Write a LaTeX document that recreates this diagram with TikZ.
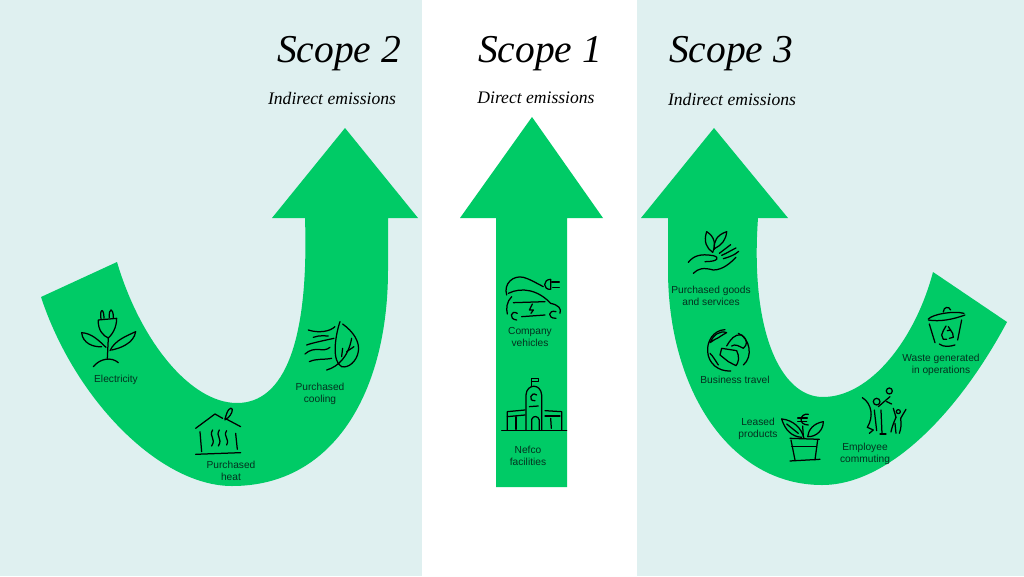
\documentclass[tikz,border=0pt]{standalone}
\usepackage{xcolor}
\usepackage{fontspec}
\setmainfont{Liberation Serif}
\setsansfont{Liberation Sans}
\definecolor{panelblue}{HTML}{DFF0F0}
\definecolor{arrowgreen}{HTML}{00CB66}
\definecolor{labelink}{HTML}{04301F}
\begin{document}
\begin{tikzpicture}[
  x=1pt, y=-1pt,
  title/.style={font=\fontsize{39.5}{39.5}\selectfont\itshape, inner sep=0pt},
  sub/.style={font=\fontsize{17.6}{17.6}\selectfont\itshape, inner sep=0pt},
  lbl/.style={font=\fontsize{10.2}{12}\selectfont\sffamily, text=labelink, align=center, inner sep=0pt},
  arrowfill/.style={fill=arrowgreen, draw=none},
  icon/.style={draw=black, line width=1.25pt, line cap=round, line join=round},
  cropa/.style={shift={(30,250)}, x=.3333pt, y=-.3333pt},
  cropb/.style={shift={(480,260)}, x=.3333pt, y=-.3333pt},
  cropc/.style={shift={(660,220)}, x=.3333pt, y=-.3333pt}]

  \useasboundingbox (0,0) rectangle (1024,576);

  % panels
  \fill[white] (0,0) rectangle (1024,576);
  \fill[panelblue] (0,0) rectangle (422,576);
  \fill[panelblue] (637,0) rectangle (1024,576);

  % arrows
  \path[arrowfill] (41,297) .. controls (75,400) and (160,486) .. (232,486)
    .. controls (335,486) and (388,390) .. (388,270) -- (388,218) -- (418,218)
    -- (345,128) -- (272,218) -- (305,218)
    .. controls (309,340) and (285,403) .. (237,403)
    .. controls (190,403) and (140,340) .. (117,262) -- cycle;
  \path[arrowfill] (496,487) -- (496,218) -- (460,218) -- (532,117) -- (603,218)
    -- (567,218) -- (567,487) -- cycle;
  \path[arrowfill] (1007,322) .. controls (960,410) and (890,485) .. (822,485)
    .. controls (730,485) and (668,390) .. (668,270) -- (668,218) -- (641,218)
    -- (714,128) -- (788,218) -- (758,218)
    .. controls (750,330) and (780,397) .. (823,397)
    .. controls (870,397) and (915,340) .. (933,272) -- cycle;

  % titles
  \node[title] (scopetwo) at (339,54) {Scope 2};
  \node[title] (scopeone) at (540,54) {Scope 1};
  \node[title] (scopethree) at (731,54) {Scope 3};
  \node[sub] (subtwo) at (332,98) {Indirect emissions};
  \node[sub] (subone) at (536,98) {Direct emissions};
  \node[sub] (subthree) at (732,99) {Indirect emissions};

  % labels
  \node[lbl] (electricity) at (116,380) {Electricity};
  \node[lbl] (heat) at (231,470.5) {Purchased\\heat};
  \node[lbl] (cooling) at (320,394) {Purchased\\cooling};
  \node[lbl] (vehicles) at (530,337) {Company\\vehicles};
  \node[lbl] (facilities) at (528,456) {Nefco\\facilities};
  \node[lbl] (goods) at (711,295.5) {Purchased goods\\and services};
  \node[lbl] (travel) at (735,380) {Business travel};
  \node[lbl] (leased) at (758,429) {Leased\\products};
  \node[lbl] (commuting) at (865,454) {Employee\\commuting};
  \node[lbl] (waste) at (941,365) {Waste generated\\in operations};

  % icons, scope 2
  \begin{scope}[cropa]
    % plug and plant
    \draw[icon] (213,207) .. controls (208,175) and (222,172) .. (222,205);
    \draw[icon] (238,203) .. controls (236,172) and (250,172) .. (250,203);
    \draw[icon] (205,210) -- (260,205) .. controls (260,235) and (245,255) .. (235,264)
      .. controls (220,258) and (203,240) .. (205,210);
    \draw[icon] (235,264) -- (232,325);
    \draw[icon] (155,248) .. controls (185,250) and (205,270) .. (228,292);
    \draw[icon] (155,248) .. controls (158,280) and (190,292) .. (215,290);
    \draw[icon] (317,245) .. controls (290,258) and (255,270) .. (240,302);
    \draw[icon] (317,245) .. controls (312,280) and (270,295) .. (245,300);
    \draw[icon] (190,350) .. controls (210,325) and (245,320) .. (265,338);
    % house
    \draw[icon] (497,535) -- (555,492) -- (578,505);
    \draw[icon] (585,505) -- (632,530);
    \draw[icon] (585,510) .. controls (590,480) and (603,468) .. (607,478)
      .. controls (608,490) and (595,505) .. (587,508);
    \draw[icon] (510,545) -- (515,605);
    \draw[icon] (617,550) -- (622,598);
    \draw[icon] (497,613) -- (632,608);
    \draw[icon] (548,540) .. controls (535,560) and (560,565) .. (545,588);
    \draw[icon] (568,540) .. controls (555,560) and (580,565) .. (565,588);
    \draw[icon] (590,542) .. controls (578,560) and (600,565) .. (590,585);
    % wind and leaf
    \draw[icon] (835,240) .. controls (865,250) and (900,245) .. (915,230);
    \draw[icon] (850,262) .. controls (870,255) and (885,258) .. (895,258);
    \draw[icon] (830,285) .. controls (850,278) and (880,272) .. (912,265);
    \draw[icon] (825,312) .. controls (855,285) and (880,310) .. (900,292);
    \draw[icon] (838,335) .. controls (860,325) and (880,330) .. (905,325);
    \draw[icon] (938,222) .. controls (970,245) and (990,275) .. (985,305)
      .. controls (980,335) and (955,355) .. (935,350)
      .. controls (905,335) and (915,260) .. (930,215);
    \draw[icon] (890,360) .. controls (925,350) and (955,320) .. (965,265);
    \draw[icon] (935,320) -- (938,295);
    \draw[icon] (950,305) -- (972,290);
  \end{scope}

  % icons, scope 1
  \begin{scope}[cropb]
    % car and cable
    \draw[icon] (80,105) .. controls (70,70) and (100,45) .. (130,52)
      .. controls (150,57) and (170,70) .. (190,80);
    \draw[icon] (212,58) .. controls (188,58) and (188,90) .. (212,88) -- (212,58);
    \draw[icon] (215,66) -- (238,66);
    \draw[icon] (218,82) -- (238,82);
    \draw[icon] (85,100) .. controls (125,80) and (175,90) .. (212,130)
      .. controls (235,135) and (245,145) .. (240,160);
    \draw[icon] (95,110) .. controls (80,125) and (78,145) .. (82,162);
    \draw[icon] (100,128) -- (195,125);
    \draw[icon] (112,160) .. controls (92,148) and (85,178) .. (110,180);
    \draw[icon] (228,155) .. controls (205,148) and (200,175) .. (228,175);
    \draw[icon] (125,170) -- (195,165);
    \draw[icon] (157,132) -- (148,150) -- (160,150) -- (153,160);
    % building
    \draw[icon] (65,512) -- (260,512);
    \draw[icon] (138,510) -- (138,405) .. controls (140,370) and (183,370) .. (185,405) -- (185,510);
    \draw[icon] (155,380) -- (155,355) -- (175,355) -- (175,365) -- (155,365);
    \draw[icon] (170,405) .. controls (152,392) and (143,425) .. (165,422);
    \draw[icon] (148,440) -- (175,438);
    \draw[icon] (155,510) -- (155,478) .. controls (160,465) and (175,468) .. (178,480) -- (178,510);
    \draw[icon] (82,510) -- (82,455) -- (135,450);
    \draw[icon] (82,470) -- (135,465);
    \draw[icon] (108,470) -- (108,508);
    \draw[icon] (195,452) -- (245,455) -- (245,510);
    \draw[icon] (195,468) -- (240,468);
    \draw[icon] (212,475) -- (214,505);
  \end{scope}

  % icons, scope 3
  \begin{scope}[cropc]
    % hand and sprout
    \draw[icon] (140,35) .. controls (130,65) and (140,85) .. (158,97);
    \draw[icon] (140,35) .. controls (165,50) and (168,75) .. (158,97);
    \draw[icon] (200,35) .. controls (170,45) and (160,65) .. (163,88);
    \draw[icon] (200,35) .. controls (198,60) and (185,75) .. (165,85);
    \draw[icon] (85,127) .. controls (100,108) and (120,100) .. (160,107)
      .. controls (180,112) and (175,125) .. (135,125);
    \draw[icon] (178,100) -- (212,74);
    \draw[icon] (185,106) .. controls (200,100) and (215,90) .. (228,84);
    \draw[icon] (190,116) .. controls (205,112) and (225,105) .. (236,94);
    \draw[icon] (100,160) .. controls (115,145) and (130,142) .. (160,150)
      .. controls (190,150) and (215,125) .. (228,112);
    % globe
    \draw[icon] (195,329) .. controls (160,330) and (140,365) .. (143,395)
      .. controls (145,430) and (175,455) .. (212,453);
    \draw[icon] (235,340) .. controls (270,355) and (280,410) .. (250,435);
    \draw[icon] (150,368) .. controls (160,345) and (180,330) .. (200,338)
      .. controls (185,345) and (175,355) .. (165,358) -- (150,368);
    \draw[icon] (200,378) .. controls (210,360) and (225,340) .. (245,345)
      .. controls (265,360) and (262,375) .. (250,385)
      .. controls (240,380) and (225,370) .. (215,378);
    \draw[icon] (185,385) -- (230,392) .. controls (240,410) and (235,430) .. (228,437)
      -- (205,425) -- (180,405) -- (185,385);
    \draw[icon] (150,400) .. controls (160,410) and (165,420) .. (175,435);
    % pot and euro
    \draw[icon] (390,655) -- (478,658);
    \draw[icon] (395,680) -- (470,680);
    \draw[icon] (393,660) -- (405,720);
    \draw[icon] (473,660) -- (465,720);
    \draw[icon] (390,723) -- (480,718);
    \draw[icon] (365,597) .. controls (400,600) and (425,625) .. (432,655);
    \draw[icon] (365,597) .. controls (375,630) and (395,650) .. (425,652);
    \draw[icon] (380,612) -- (415,640);
    \draw[icon] (490,605) .. controls (460,610) and (445,630) .. (443,650);
    \draw[icon] (490,605) .. controls (490,630) and (470,650) .. (445,650);
    \draw[icon] (445,583) .. controls (420,578) and (412,615) .. (445,615);
    \draw[icon] (413,594) -- (442,594);
    \draw[icon] (413,604) -- (440,604);
    \draw[icon] (428,618) -- (430,650);
    % people
    \draw[icon] (650,545) circle[radius=10];
    \draw[icon] (607,533) .. controls (635,550) and (642,590) .. (622,622) -- (640,630) -- (628,640);
    \draw[icon] (643,570) -- (650,632);
    \draw[icon] (663,570) -- (666,640);
    \draw[icon] (660,642) -- (678,642);
    \draw[icon] (655,560) -- (690,530);
    \draw[icon] (680,545) -- (695,552);
    \draw[icon] (688,513) circle[radius=9];
    \draw[icon] (715,575) circle[radius=6];
    \draw[icon] (700,565) -- (708,592);
    \draw[icon] (738,568) -- (722,595);
    \draw[icon] (708,592) .. controls (700,610) and (695,625) .. (693,636);
    \draw[icon] (722,595) .. controls (725,615) and (722,630) .. (718,640);
    \draw[icon] (705,610) -- (708,640);
    % bin
    \draw[icon] (805,297) .. controls (820,282) and (880,272) .. (912,280);
    \draw[icon] (805,300) .. controls (840,306) and (880,298) .. (915,285);
    \draw[icon] (850,276) .. controls (850,260) and (868,258) .. (872,270);
    \draw[icon] (808,312) -- (825,368);
    \draw[icon] (905,300) -- (893,360);
    \draw[icon] (838,372) .. controls (850,382) and (870,380) .. (885,375);
    \draw[icon] (858,318) -- (850,332) -- (845,345) -- (850,358) -- (860,358);
    \draw[icon] (865,320) -- (878,340) -- (880,352) -- (868,355);
    \draw[icon] (872,330) -- (862,332);
  \end{scope}
\end{tikzpicture}
\end{document}
